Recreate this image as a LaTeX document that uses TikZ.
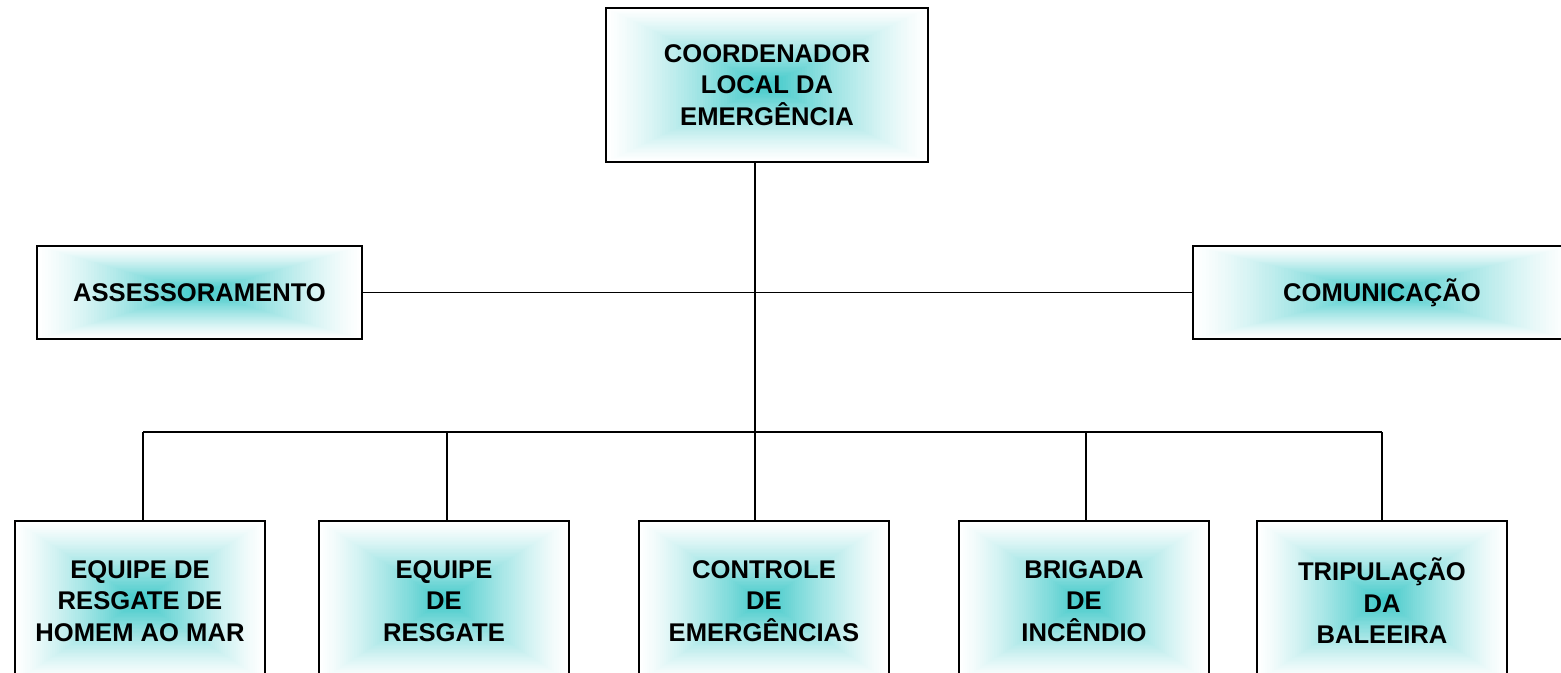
\documentclass[tikz,border=0pt]{standalone}
\usepackage{fontspec}
\setmainfont{Liberation Sans}
\usetikzlibrary{calc}
\definecolor{tealc}{RGB}{60,200,200}
\AtBeginDocument{\lineskiplimit=-50pt\relax}
\tikzset{
  grad/.style={path picture={
    \foreach \k in {1,...,60}{
      \pgfmathsetmacro\t{1-\k/60}
      \pgfmathsetmacro\p{100*exp(1.25*ln(\k/60))}
      \fill[tealc!\p!white]
        ($(path picture bounding box.center)!\t!(path picture bounding box.south west)$)
        rectangle
        ($(path picture bounding box.center)!\t!(path picture bounding box.north east)$);
    }}},
  box/.style={draw=black, fill=white, line width=2.1pt, grad, align=center, inner sep=0pt,
    font=\fontsize{19.2}{23.6}\selectfont\bfseries},
  conn/.style={line width=1.4pt, black}
}
\begin{document}
\begin{tikzpicture}[x=0.75pt,y=-0.75pt]
\useasboundingbox (0,0) rectangle (1561,672);
\clip (0,0) rectangle (1561,672);
\fill[white] (0,0) rectangle (1561,672);
% nodes
\node[box, minimum width=241.5pt, minimum height=115.5pt] (top) at (767,85) {COORDENADOR\\LOCAL DA\\EMERGÊNCIA};
\node[box, minimum width=243.75pt, minimum height=69.75pt] (asse) at (199.5,292.5) {ASSESSORAMENTO};
\node[box, minimum width=283.5pt, minimum height=69.75pt] (comu) at (1382,292.5) {COMUNICAÇÃO};
\node[box, minimum width=187.5pt, minimum height=120pt] (b1) at (140,601) {EQUIPE DE\\RESGATE DE\\HOMEM AO MAR};
\node[box, minimum width=187.5pt, minimum height=120pt] (b2) at (444,601) {EQUIPE\\DE\\RESGATE};
\node[box, minimum width=187.5pt, minimum height=120pt] (b3) at (764,601) {CONTROLE\\DE\\EMERGÊNCIAS};
\node[box, minimum width=187.5pt, minimum height=120pt] (b4) at (1084,601) {BRIGADA\\DE\\INCÊNDIO};
\node[box, minimum width=187.5pt, minimum height=120pt] (b5) at (1382,601) {TRIPULAÇÃO\\DA\\BALEEIRA};
% junction coordinates
\coordinate (j1) at (755,292.5);
\coordinate (j2) at (755,432);
\coordinate (d1) at (143,432);
\coordinate (d2) at (447,432);
\coordinate (d3) at (755,432);
\coordinate (d4) at (1086,432);
\coordinate (d5) at (1382,432);
% connectors
\draw[conn] (top.south -| j1) -- (j2);
\draw[conn] (asse.east) -- (comu.west);
\draw[conn] (d1) -- (d5);
\draw[conn] (d1) -- (b1.north -| d1);
\draw[conn] (d2) -- (b2.north -| d2);
\draw[conn] (d3) -- (b3.north -| d3);
\draw[conn] (d4) -- (b4.north -| d4);
\draw[conn] (d5) -- (b5.north -| d5);
\end{tikzpicture}
\end{document}
